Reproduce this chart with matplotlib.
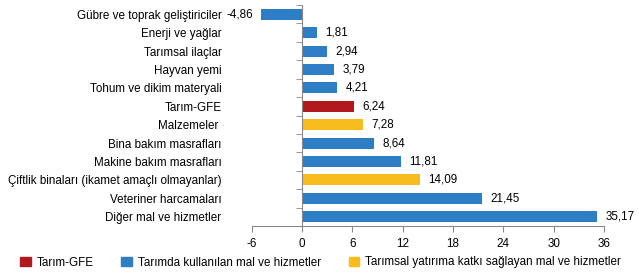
import matplotlib
matplotlib.use("Agg")
import matplotlib.pyplot as plt
from matplotlib.patches import Patch
import numpy as np

plt.rcParams['font.family'] = ['Liberation Sans', 'DejaVu Sans']

categories = ["Gübre ve toprak geliştiriciler", "Enerji ve yağlar", "Tarımsal ilaçlar",
              "Hayvan yemi", "Tohum ve dikim materyali", "Tarım-GFE", "Malzemeler ",
              "Bina bakım masrafları", "Makine bakım masrafları",
              "Çiftlik binaları (ikamet amaçlı olmayanlar)", "Veteriner harcamaları",
              "Diğer mal ve hizmetler"]
values = [-4.86, 1.81, 2.94, 3.79, 4.21, 6.24, 7.28, 8.64, 11.81, 14.09, 21.45, 35.17]
groups = ["b", "b", "b", "b", "b", "r", "y", "b", "b", "y", "b", "b"]
legend_labels = ["Tarım-GFE", "Tarımda kullanılan mal ve hizmetler",
                 "Tarımsal yatırıma katkı sağlayan mal ve hizmetler"]
xticks = [-6, 0, 6, 12, 18, 24, 30, 36]

colors = {"r": "#B2191C", "b": "#2E7EC5", "y": "#F8BC1C"}
fs = 8.4

fig = plt.figure(figsize=(6.39, 2.79), dpi=100)
ax = fig.add_axes([0.394, 0.19, 0.551, 0.792])

y = np.arange(len(categories))
ax.barh(y, values, height=0.6, color=[colors[g] for g in groups])
ax.set_ylim(len(categories) - 0.5, -0.5)
ax.set_xlim(-6, 36)

for yi, v in zip(y, values):
    txt = f"{v:.2f}".replace(".", ",")
    if v >= 0:
        ax.annotate(txt, (v, yi), xytext=(6, 0), textcoords="offset points",
                    ha="left", va="center", fontsize=fs)
    else:
        ax.annotate(txt, (v, yi), xytext=(-6, 0), textcoords="offset points",
                    ha="right", va="center", fontsize=fs)

# y-axis sits at zero, category boundaries ticked
ax.spines['left'].set_position(('data', 0))
ax.spines['left'].set_color('#888888')
ax.spines['bottom'].set_color('#888888')
ax.spines['top'].set_visible(False)
ax.spines['right'].set_visible(False)
ax.set_yticks(y)
ax.set_yticklabels(categories, fontsize=fs)
ax.tick_params(axis='y', which='major', length=0, pad=58)
ax.set_yticks(np.arange(-0.5, len(categories)), minor=True)
ax.tick_params(axis='y', which='minor', length=4, color='#888888')

ax.set_xticks(xticks)
ax.set_xticklabels([str(t) for t in xticks], fontsize=fs)
ax.tick_params(axis='x', length=4, color='#888888', pad=5)

handles = [Patch(color=colors[c]) for c in ["r", "b", "y"]]
fig.legend(handles, legend_labels, loc="lower left", bbox_to_anchor=(0.015, 0.0),
           ncol=3, frameon=False, fontsize=fs, handlelength=0.9, handleheight=0.9,
           handletextpad=0.5, columnspacing=2.4)

fig.savefig("out.png", dpi=100)
